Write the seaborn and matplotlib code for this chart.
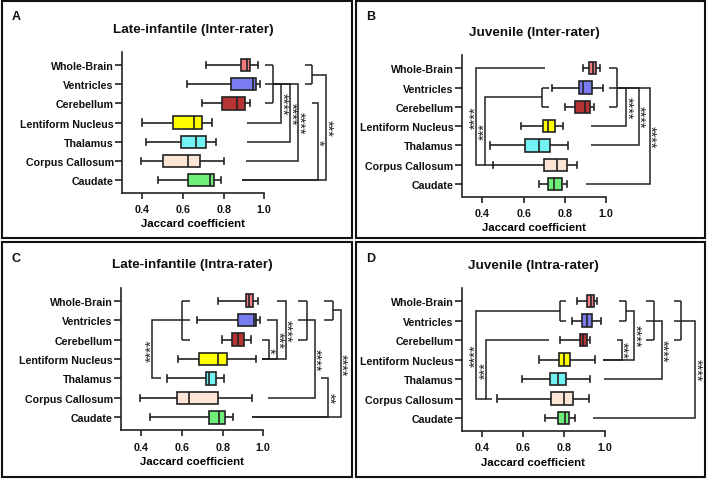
import pandas as pd
import matplotlib
matplotlib.use("Agg")
import matplotlib.pyplot as plt
import seaborn as sns
from matplotlib.patches import Rectangle

# ---------------- data ----------------
REGIONS = ["Whole-Brain", "Ventricles", "Cerebellum", "Lentiform Nucleus",
           "Thalamus", "Corpus Callosum", "Caudate"]
COLORS = ["#F27C7C", "#7C7CF2", "#B83434", "#FFFF00",
          "#72F2F2", "#FCE5D4", "#6FEF79"]
TICKS = [0.4, 0.6, 0.8, 1.0]

# five-number summaries per region: min, q1, median, q3, max
LI_INTER = [
    [0.713, 0.884, 0.913, 0.930, 0.970],
    [0.618, 0.836, 0.945, 0.958, 0.980],
    [0.693, 0.790, 0.865, 0.903, 0.928],
    [0.400, 0.552, 0.654, 0.695, 0.744],
    [0.417, 0.590, 0.662, 0.711, 0.762],
    [0.392, 0.500, 0.623, 0.682, 0.803],
    [0.476, 0.626, 0.734, 0.754, 0.787],
]
JUV_INTER = [
    [0.888, 0.917, 0.934, 0.950, 0.971],
    [0.738, 0.868, 0.885, 0.930, 0.982],
    [0.799, 0.849, 0.896, 0.920, 0.941],
    [0.589, 0.693, 0.717, 0.750, 0.792],
    [0.438, 0.605, 0.673, 0.727, 0.815],
    [0.451, 0.701, 0.763, 0.808, 0.857],
    [0.673, 0.717, 0.745, 0.785, 0.810],
]
LI_INTRA = [
    [0.779, 0.917, 0.932, 0.948, 0.975],
    [0.675, 0.874, 0.953, 0.962, 0.986],
    [0.795, 0.846, 0.874, 0.907, 0.940],
    [0.581, 0.683, 0.775, 0.820, 0.966],
    [0.525, 0.716, 0.734, 0.765, 0.805],
    [0.392, 0.575, 0.636, 0.777, 0.945],
    [0.444, 0.733, 0.784, 0.812, 0.851],
]
JUV_INTRA = [
    [0.865, 0.915, 0.931, 0.948, 0.961],
    [0.840, 0.890, 0.912, 0.936, 0.982],
    [0.782, 0.879, 0.895, 0.912, 0.928],
    [0.676, 0.774, 0.800, 0.828, 0.952],
    [0.596, 0.730, 0.771, 0.809, 0.928],
    [0.472, 0.738, 0.799, 0.845, 0.923],
    [0.706, 0.770, 0.805, 0.826, 0.856],
]

# significance brackets
# groups: (rows, x where the ticks start, x of the bar)
# links:  (row_a, x_a, row_b, x_b, x of the bar, label)
LI_INTER_GROUPS = [([0, 1, 2], 1.004, 1.041), ([0, 1], 1.198, 1.234)]
LI_INTER_LINKS = [
    (1, 1.041, 3, 0.914, 1.083, "****"),
    (1, 1.041, 4, 0.914, 1.127, "****"),
    (1, 1.041, 5, 0.910, 1.168, "****"),
    (2, 1.237, 6, 0.890, 1.263, "*"),
    (0.5, 1.234, 6, 0.890, 1.304, "***"),
]
JUV_INTER_GROUPS = [([1, 2], 0.722, 0.690), ([0, 1, 2], 1.015, 1.052)]
JUV_INTER_LINKS = [
    (0, 0.703, 5, 0.413, 0.368, "****"),
    (1.5, 0.690, 5, 0.454, 0.413, "***"),
    (1, 1.052, 3, 0.925, 1.096, "****"),
    (1, 1.052, 4, 0.925, 1.156, "****"),
    (1, 1.052, 6, 0.904, 1.210, "****"),
]
LI_INTRA_GROUPS = [([0, 1, 2], 0.639, 0.602), ([0, 1, 2], 1.172, 1.217),
                   ([0, 1], 1.300, 1.341)]
LI_INTRA_LINKS = [
    (1, 0.602, 4, 0.496, 0.454, "****"),
    (2, 0.994, 3, 0.994, 1.027, "*"),
    (1, 1.019, 3, 0.994, 1.068, "***"),
    (0, 1.065, 3, 0.994, 1.110, "****"),
    (1, 1.217, 5, 1.022, 1.254, "****"),
    (4, 1.286, 6, 0.945, 1.320, "**"),
    (0.5, 1.341, 6, 0.945, 1.381, "****"),
]
JUV_INTRA_GROUPS = [([0, 1], 0.812, 0.779), ([0, 1], 1.072, 1.104),
                    ([0, 1, 2], 1.202, 1.242), ([0, 1, 2], 1.340, 1.374)]
JUV_INTRA_LINKS = [
    (0.5, 0.779, 5, 0.420, 0.371, "****"),
    (2, 0.725, 5, 0.449, 0.420, "***"),
    (2, 1.062, 3, 0.993, 1.083, "***"),
    (0.5, 1.104, 3, 0.993, 1.145, "****"),
    (1, 1.242, 4, 0.998, 1.279, "****"),
    (1, 1.374, 6, 0.944, 1.443, "****"),
]

# ---------------- layout ----------------
W, H = 708, 481
LINE = "#222222"
PANELS = [
    # letter, title, stats, groups, links, axes (left, right, top, bottom) px, frame px
    ("A", "Late-infantile (Inter-rater)", LI_INTER, LI_INTER_GROUPS, LI_INTER_LINKS,
     (122, 264.3, 53, 193.5), (1.5, 351.5, 1.5, 238.5)),
    ("B", "Juvenile (Inter-rater)", JUV_INTER, JUV_INTER_GROUPS, JUV_INTER_LINKS,
     (461.6, 606.3, 56.2, 197.5), (356, 704.5, 1.5, 238.5)),
    ("C", "Late-infantile (Intra-rater)", LI_INTRA, LI_INTRA_GROUPS, LI_INTRA_LINKS,
     (121, 263.3, 288.5, 431), (1.5, 351.5, 242.5, 477.5)),
    ("D", "Juvenile (Intra-rater)", JUV_INTRA, JUV_INTRA_GROUPS, JUV_INTRA_LINKS,
     (461.9, 604.7, 289, 431.6), (356, 704.5, 242.5, 477.5)),
]

plt.rcParams["font.family"] = ["Liberation Sans", "DejaVu Sans"]
plt.rcParams["font.weight"] = "bold"


def fx(x):
    return x / W


def fy(y):
    return 1 - y / H


def to_long(stats):
    rows = []
    for region, five in zip(REGIONS, stats):
        for v in five:
            rows.append({"region": region, "value": v})
    return pd.DataFrame(rows)


def add_brackets(ax, groups, links):
    kw = dict(color=LINE, lw=1.1, clip_on=False,
              solid_capstyle="butt", solid_joinstyle="miter")
    for rows, x0, xv in groups:
        for r in rows:
            ax.plot([x0, xv], [r, r], **kw)
        ax.plot([xv, xv], [min(rows), max(rows)], **kw)
    for ra, xa, rb, xb, xv, lab in links:
        ax.plot([xa, xv, xv, xb], [ra, ra, rb, rb], **kw)
        side = 1 if xv > xa else -1
        # asterisks sit high in the em box, so turn them to face away from the bar
        ax.annotate(lab, (xv, (ra + rb) / 2), xytext=(side * 0.4, 0),
                    textcoords="offset points",
                    rotation=270 if side > 0 else 90,
                    rotation_mode="anchor", ha="center", va="center",
                    fontsize=10.5, fontweight="normal", color=LINE,
                    annotation_clip=False)


fig = plt.figure(figsize=(W / 100, H / 100), dpi=100)

for letter, title, stats, groups, links, (l, r, t, b), (fl, fr, ft, fb) in PANELS:
    fig.patches.append(Rectangle((fx(fl), fy(fb)), fx(fr) - fx(fl), fy(ft) - fy(fb),
                                 transform=fig.transFigure, fill=False,
                                 edgecolor="#111111", lw=1.5))
    ax = fig.add_axes([fx(l), fy(b), fx(r) - fx(l), fy(t) - fy(b)])
    sns.boxplot(data=to_long(stats), x="value", y="region", hue="region",
                order=REGIONS, hue_order=REGIONS, palette=COLORS,
                saturation=1, whis=(0, 100), width=0.64, linecolor=LINE,
                linewidth=1.2, legend=False, ax=ax)
    ax.set_xlim(0.3, 1.0)
    ax.set_ylim(6.65, -0.68)
    ax.set_xticks(TICKS)
    ax.set_xticklabels([f"{v:.1f}" for v in TICKS])
    ax.set_ylabel("")
    ax.set_xlabel("Jaccard coefficient", fontsize=8.2, fontweight="bold",
                  va="center")
    ax.xaxis.set_label_coords(0.5, -31 / (b - t))
    for s in ["top", "right"]:
        ax.spines[s].set_visible(False)
    for s in ["left", "bottom"]:
        ax.spines[s].set_linewidth(1.2)
        ax.spines[s].set_color(LINE)
    ax.tick_params(axis="y", length=5, width=1.2, pad=1, labelsize=7.7,
                   color=LINE, labelcolor="#111111")
    ax.tick_params(axis="x", length=4.5, width=1.2, pad=4, labelsize=7.7,
                   color=LINE, labelcolor="#111111")
    for lab in ax.get_xticklabels() + ax.get_yticklabels():
        lab.set_fontweight("bold")
    ax.set_facecolor("none")

    add_brackets(ax, groups, links)

    fig.text(fx((l + r) / 2), fy(t - 23), title, ha="center", va="center",
             fontsize=9.7, fontweight="bold", color="#111111")
    fig.text(fx(fl + 10.5), fy(ft + 16), letter, ha="left", va="center",
             fontsize=9, fontweight="bold", color="#111111")

fig.savefig("out.png", dpi=100)
